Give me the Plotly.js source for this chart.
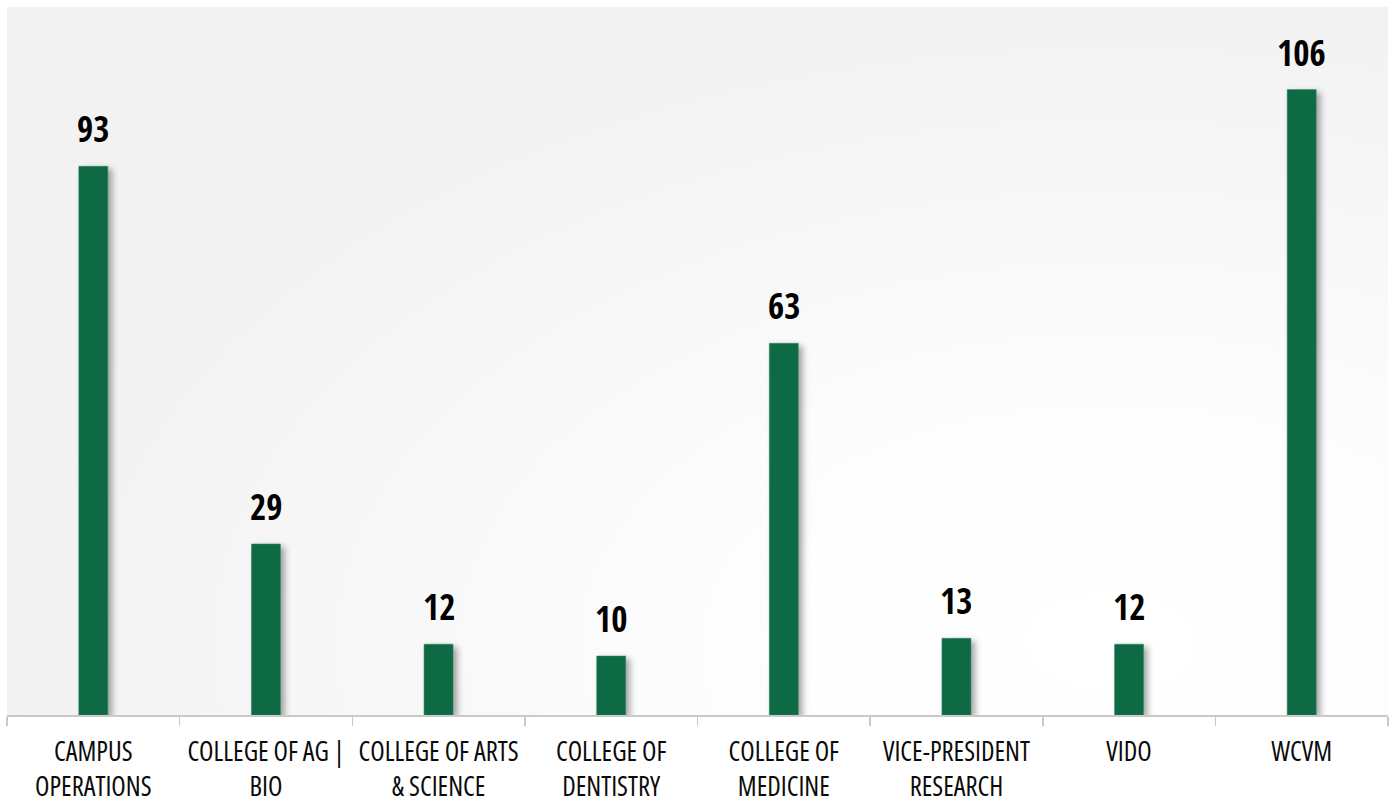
<!DOCTYPE html>
<html>
<head>
<meta charset="utf-8">
<script src="https://cdn.plot.ly/plotly-3.0.1.min.js"></script>
<style>
  html, body { margin: 0; padding: 0; background: #ffffff; }
  #wrap { position: relative; width: 1394px; height: 804px; overflow: hidden; }
  #bg { position: absolute; left: 7px; top: 7px; width: 1381px; height: 708px;
        background: radial-gradient(ellipse 1300px 760px at 80% 90%, #ffffff 0%, #fdfdfd 30%, #f7f7f7 60%, #f2f2f2 85%); }
  #chart { position: absolute; left: 0; top: 0; width: 1394px; height: 804px; }
  #chart .bars .point path { filter: drop-shadow(4px 3px 3px rgba(0,0,0,0.35)); }
  #chart .xtick text { font-stretch: 75% !important; }
  #chart .annotation-text { font-stretch: 75% !important; }
</style>
</head>
<body>
<div id="wrap"><div id="bg"></div><div id="chart"></div></div>
<script>
const categories = ['CAMPUS OPERATIONS', 'COLLEGE OF AG | BIO', 'COLLEGE OF ARTS & SCIENCE', 'COLLEGE OF DENTISTRY',
                    'COLLEGE OF MEDICINE', 'VICE-PRESIDENT RESEARCH', 'VIDO', 'WCVM'];
const tickLabels = ['CAMPUS<br>OPERATIONS', 'COLLEGE OF AG |<br>BIO', 'COLLEGE OF ARTS<br>& SCIENCE', 'COLLEGE OF<br>DENTISTRY',
                    'COLLEGE OF<br>MEDICINE', 'VICE-PRESIDENT<br>RESEARCH', 'VIDO', 'WCVM'];
const values = [93, 29, 12, 10, 63, 13, 12, 106];

const tickFont = '"Open Sans", "Roboto Condensed", sans-serif';
const valueFont = '"Open Sans Condensed", "Open Sans", "Roboto Condensed", sans-serif';

const trace = {
  type: 'bar',
  x: categories,
  y: values,
  width: 0.168,
  marker: { color: '#0e6a44', line: { color: '#2f8a62', width: 0.5 } },
  hoverinfo: 'x+y'
};

const annotations = categories.map((c, i) => ({
  x: c, y: values[i], xref: 'x', yref: 'y',
  text: String(values[i]), showarrow: false,
  yanchor: 'bottom', yshift: 12,
  font: { family: valueFont, size: 35, color: '#000000', weight: 'bold' }
}));

const layout = {
  width: 1394, height: 804,
  margin: { l: 7, r: 6, t: 7, b: 89 },
  paper_bgcolor: 'rgba(0,0,0,0)',
  plot_bgcolor: 'rgba(0,0,0,0)',
  showlegend: false,
  xaxis: {
    type: 'category',
    tickmode: 'array', tickvals: categories, ticktext: tickLabels,
    tickangle: 0,
    tickson: 'boundaries', ticks: 'outside', ticklen: 9, tickcolor: '#c9c9c9', tickwidth: 1.5,
    ticklabelstandoff: 13,
    showline: true, linecolor: '#c9c9c9', linewidth: 1.5,
    showgrid: false, zeroline: false,
    tickfont: { family: tickFont, size: 26.5, color: '#0a0a0a' },
    automargin: false, fixedrange: true
  },
  yaxis: {
    range: [0, 120], visible: false, showgrid: false, zeroline: false, fixedrange: true
  },
  annotations: annotations
};

Plotly.newPlot('chart', [trace], layout, { displayModeBar: false, staticPlot: true });
</script>
</body>
</html>
